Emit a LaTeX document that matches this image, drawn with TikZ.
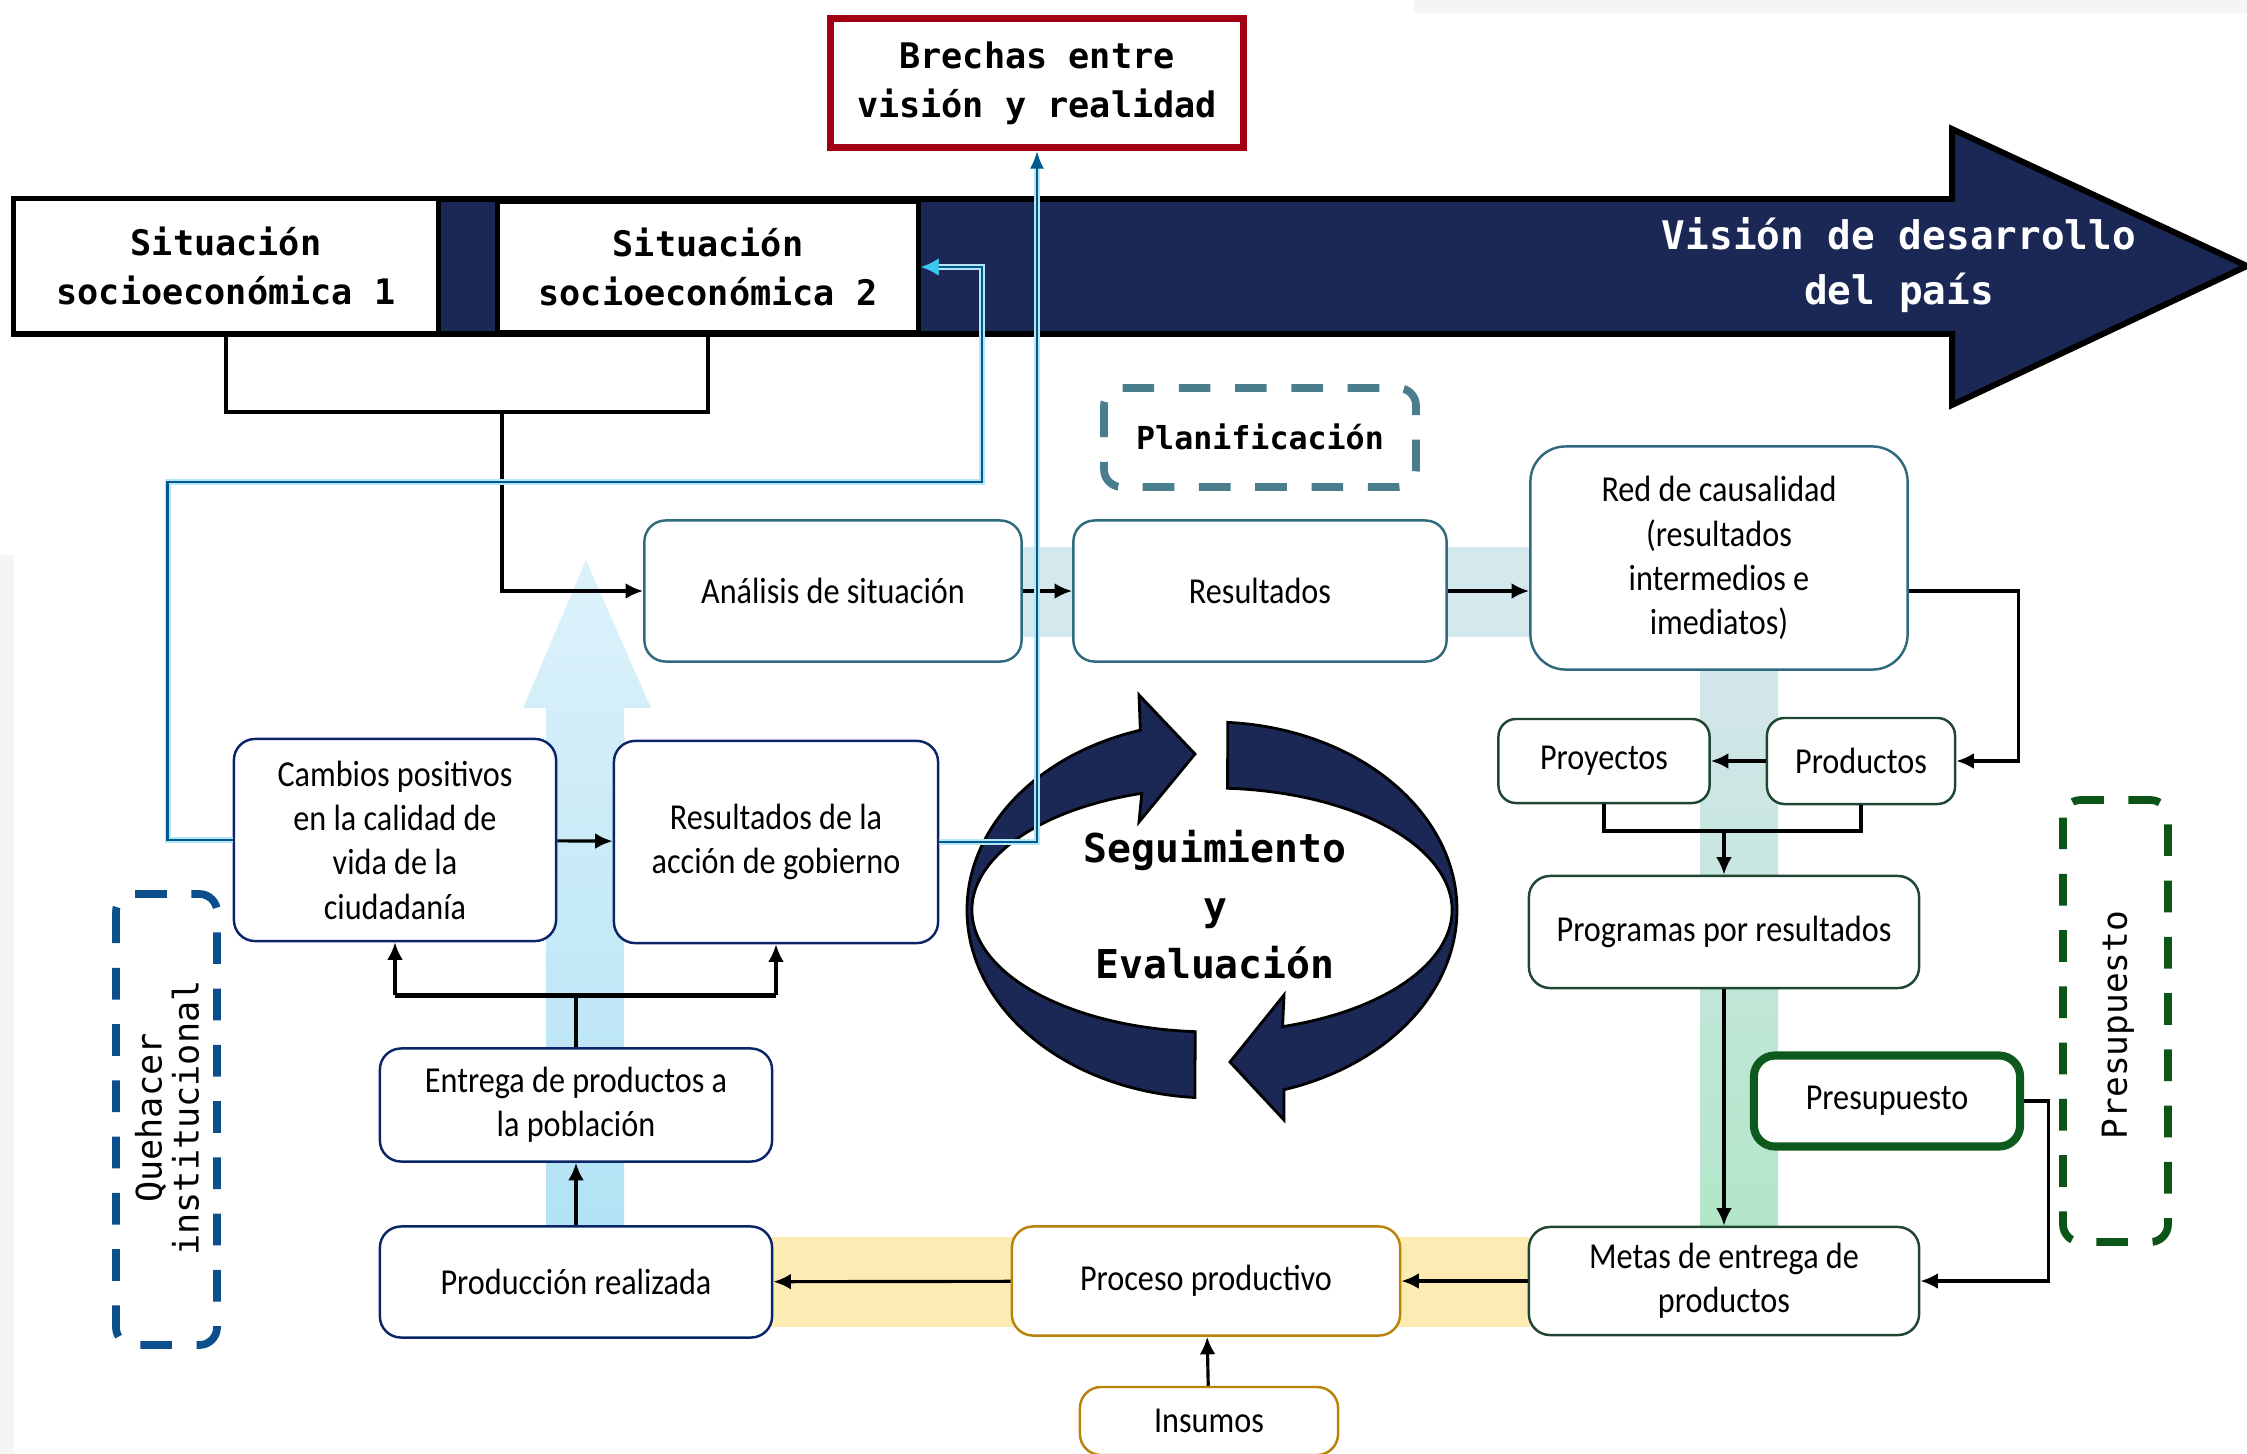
\documentclass[tikz,border=0pt]{standalone}
\usepackage{fontspec}
\setmainfont{Carlito}[FakeStretch=0.88]
\newfontfamily\codefont{DejaVu Sans Mono}
\usetikzlibrary{arrows.meta}
\definecolor{navyA}{HTML}{1B2754}
\definecolor{tealb}{HTML}{2F6B7D}
\definecolor{navyb}{HTML}{0B2668}
\definecolor{greenb}{HTML}{1E4630}
\definecolor{presb}{HTML}{0E5A1E}
\definecolor{goldb}{HTML}{B98209}
\definecolor{redb}{HTML}{A00012}
\definecolor{bluel}{HTML}{005A8E}
\definecolor{glow}{HTML}{B5E6F5}
\definecolor{cyanA}{HTML}{3CC8EE}
\definecolor{lblue}{HTML}{B2E2F4}
\definecolor{pband}{HTML}{D5E8EE}
\definecolor{bandA}{HTML}{D3E6EB}
\definecolor{bandG}{HTML}{B3E6C9}
\definecolor{yband}{HTML}{FCEBB3}
\definecolor{quehc}{HTML}{0C4F8C}
\definecolor{presc}{HTML}{0B5517}
\definecolor{planc}{HTML}{4B7E8C}
\begin{document}
\begin{tikzpicture}[x=0.01cm,y=-0.01cm,
    box/.style={draw,fill=white,rounded corners=6pt,line width=0.7pt,align=center,inner sep=2pt,font=\fontsize{10.4}{12.6}\selectfont},
    tealbox/.style={box,draw=tealb},
    navybox/.style={box,draw=navyb},
    greenbox/.style={box,draw=greenb},
    goldbox/.style={box,draw=goldb},
    sitbox/.style={draw,fill=white,line width=1.4pt,align=center,font=\codefont\bfseries\fontsize{10}{14}\selectfont},
    dashbox/.style={line width=2.2pt,dash pattern=on 9pt off 7pt,rounded corners=5pt},
    link/.style={-{Latex[length=5pt,width=4.5pt]},line width=0.9pt},
    bluearr/.style={draw=bluel,line width=0.8pt,preaction={draw=glow,line width=1.8pt}},
    cyc/.style={fill=navyA,draw=black,line width=0.8pt}]
\useasboundingbox (0,0) rectangle (2247,1454);
\clip (0,0) rectangle (2247,1454);
\fill[gray!8] (1414,0) rectangle (2247,13);
\fill[gray!8] (0,555) rectangle (14,1454);
% bands
\fill[pband] (1022,547) rectangle (1531,637);
\shade[top color=bandA,bottom color=bandG] (1700,669) rectangle (1778,1227);
\fill[yband] (772,1237) rectangle (1530,1327);
\shade[top color=lblue!45,bottom color=lblue] (546,1227)--(546,708)--(523,708)--(586,560)--(651,708)--(624,708)--(624,1227)--cycle;
% vision arrow
\draw[fill=navyA,line width=1.7pt] (14,199)--(1952,199)--(1952,129)--(2247,266)--(1952,405)--(1952,334)--(14,334)--cycle;
\node (vision) at (1899,265)[text=white,align=center,font=\codefont\bfseries\fontsize{11.2}{15.6}\selectfont]{Visión de desarrollo\\del país};
\node (sitA) at (226,266)[sitbox,minimum width=4.25cm,minimum height=1.35cm]{Situación\\socioeconómica 1};
\node (sitB) at (708,267)[sitbox,minimum width=4.21cm,minimum height=1.31cm]{Situación\\socioeconómica 2};
\node (brechas) at (1037,83)[draw=redb,fill=white,line width=2pt,align=center,minimum width=4.13cm,minimum height=1.29cm,font=\codefont\bfseries\fontsize{10}{14}\selectfont]{Brechas entre\\visión y realidad};
% dashed frames
\draw[dashbox,draw=planc] (1104,388) rectangle (1416,487);
\node (planif) at (1260,437)[font=\codefont\bfseries\fontsize{9}{11}\selectfont]{Planificación};
\draw[dashbox,draw=quehc] (116,894) rectangle (217,1345);
\node (queh) at (167,1118)[rotate=90,align=center,font=\codefont\fontsize{10}{10.5}\selectfont]{Quehacer\\institucional};
\draw[dashbox,draw=presc] (2063,800) rectangle (2168,1242);
\node (presdash) at (2118,1025)[rotate=90,font=\codefont\fontsize{9.8}{11}\selectfont]{Presupuesto};
% boxes
\node (analisis) at (833,591)[tealbox,minimum width=3.77cm,minimum height=1.41cm]{Análisis de situación};
\node (resultados) at (1260,591)[tealbox,minimum width=3.73cm,minimum height=1.41cm]{Resultados};
\node (red) at (1719,558)[tealbox,rounded corners=10pt,minimum width=3.77cm,minimum height=2.23cm]{Red de causalidad\\(resultados\\intermedios e\\imediatos)};
\node (proyectos) at (1604,761)[greenbox,rounded corners=5pt,minimum width=2.11cm,minimum height=0.84cm]{Proyectos};
\node (productos) at (1861,761)[greenbox,rounded corners=5pt,minimum width=1.88cm,minimum height=0.86cm]{Productos};
\node (programas) at (1724,932)[greenbox,minimum width=3.90cm,minimum height=1.12cm]{Programas por resultados};
\node (presup) at (1887,1101)[box,draw=presb,line width=2.3pt,minimum width=2.66cm,minimum height=0.91cm]{Presupuesto};
\node (metas) at (1724,1281)[greenbox,minimum width=3.90cm,minimum height=1.08cm]{Metas de entrega de\\productos};
\node (proceso) at (1206,1281)[goldbox,minimum width=3.88cm,minimum height=1.09cm]{Proceso productivo};
\node (insumos) at (1209,1421)[goldbox,minimum width=2.58cm,minimum height=0.68cm]{Insumos};
\node (produccion) at (576,1282)[navybox,minimum width=3.92cm,minimum height=1.11cm]{Producción realizada};
\node (entrega) at (576,1105)[navybox,minimum width=3.92cm,minimum height=1.13cm]{Entrega de productos a\\la población};
\node (cambios) at (395,840)[navybox,minimum width=3.22cm,minimum height=2.02cm]{Cambios positivos\\en la calidad de\\vida de la\\ciudadanía};
\node (resacc) at (776,842)[navybox,minimum width=3.24cm,minimum height=2.02cm]{Resultados de la\\acción de gobierno};
% seguimiento y evaluacion
\draw[cyc] (1194.9,1097.5) arc[start angle=94,end angle=253,x radius=245,y radius=188]--(1139,695)--(1195,754)--(1139,822)--(1141.8,793.3) arc[start angle=253,end angle=94,x radius=240,y radius=122]--cycle;
\draw[cyc] (1227.8,722.4) arc[start angle=273.7,end angle=432.9,x radius=245,y radius=188]--(1284,1120)--(1230,1062)--(1284,995)--(1282.6,1026.6) arc[start angle=432.9,end angle=273.7,x radius=240,y radius=122]--cycle;
\node (seg) at (1215,905)[align=center,font=\codefont\bfseries\fontsize{11.3}{16.5}\selectfont]{Seguimiento\\y\\Evaluación};
% connectors
\coordinate (sitjoin) at (502,410);
\draw[line width=0.9pt] (sitA.south)--++(0,76)-|(sitB.south);
\draw[link] (sitjoin)|-(analisis.west);
\draw[link] (analisis.east)--(resultados.west);
\draw[link] (resultados.east)--(red.west|-resultados.east);
\draw[link] (red.east|-resultados.east)--++(110,0)|-(productos.east);
\draw[link] (productos.west)--(proyectos.east);
\coordinate (pjoin) at (1724,831);
\draw[line width=0.9pt] (proyectos.south)--(proyectos.south|-pjoin)-|(productos.south);
\draw[link] (pjoin)--(programas);
\draw[link] (programas)--(metas);
\draw[link] (presup.east)--++(24,0)|-(metas.east);
\draw[link] (metas)--(proceso);
\draw[link] (proceso)--(produccion);
\draw[link] (insumos)--(proceso);
\draw[link] (produccion)--(entrega);
\draw[line width=0.9pt] (entrega.north)--++(0,-52) coordinate (ebar);
\draw[line width=1.4pt] (cambios.south|-ebar)--(resacc.south|-ebar);
\draw[link] (cambios.south|-ebar)--(cambios.south);
\draw[link] (resacc.south|-ebar)--(resacc.south);
\draw[link] (cambios)--(resacc);
\draw[bluearr,-{Latex[length=5pt,width=5pt,color=cyanA]}] (cambios.west)--++(-65,0)--++(0,-358)--(982,482)|-(sitB.east);
\draw[bluearr,-{Latex[length=5pt,width=4pt]}] (resacc.east)-|(brechas.south);
\end{tikzpicture}
\end{document}
